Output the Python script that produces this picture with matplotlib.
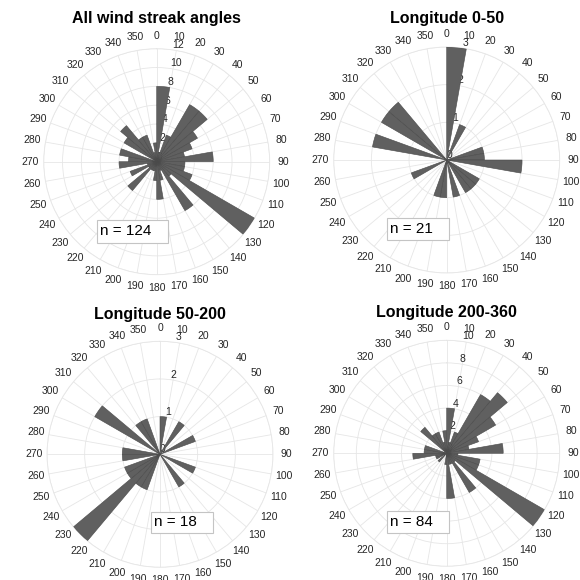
import numpy as np
import matplotlib
matplotlib.use("Agg")
import matplotlib.pyplot as plt
from matplotlib.patches import Rectangle

plt.rcParams['font.family'] = ['Liberation Sans', 'DejaVu Sans']

# 10-degree bins, counts per bin (0-10, 10-20, ... 350-360)
bin_starts = np.arange(0, 360, 10)
all_counts = [8, 1, 3, 7, 7, 5, 4, 3, 6, 3, 3, 4, 12, 2, 6, 1, 2, 4,
              2, 1, 1, 1, 4, 1, 3, 1, 4, 3, 4, 0, 4, 5, 3, 3, 1, 2]
lon_0_50 = [3, 0, 1, 0, 0, 0, 0, 1, 1, 2, 0, 0, 1, 1, 1, 0, 1, 0,
            1, 1, 0, 0, 0, 0, 1, 0, 0, 0, 2, 0, 2, 2, 0, 0, 0, 0]
lon_50_200 = [1, 0, 0, 1, 0, 0, 1, 0, 0, 0, 0, 1, 0, 0, 1, 0, 0, 0,
              0, 0, 1, 1, 3, 1, 1, 0, 1, 1, 0, 0, 2, 0, 1, 1, 0, 0]
lon_200_360 = [4, 1, 2, 6, 7, 5, 3, 2, 5, 1, 3, 3, 10, 1, 4, 1, 1, 4,
               1, 0, 0, 0, 1, 0, 1, 1, 3, 2, 2, 0, 0, 3, 2, 2, 1, 2]

titles = ["All wind streak angles", "Longitude 0-50", "Longitude 50-200", "Longitude 200-360"]
n_labels = ["n = 124", "n = 21", "n = 18", "n = 84"]
r_max = [12, 3, 3, 10]
r_step = [2, 1, 1, 2]

W = H = 580
R = 113  # outer radius, px
centers = [(156.7, 161.7), (446.7, 160), (160, 454.3), (446.7, 453.3)]
title_y = [18, 18, 315, 313]
# n-box (left, top, right, bottom) in px
boxes = [(96.7, 220, 168.3, 242.7), (386.7, 218.3, 449.3, 240),
         (150.7, 511.7, 212.7, 533.3), (387.3, 510.7, 449.3, 533.3)]

fig = plt.figure(figsize=(5.8, 5.8), dpi=100)
series = [all_counts, lon_0_50, lon_50_200, lon_200_360]
txt = '#262626'
grid_c = '#e6e6e6'

for i, counts in enumerate(series):
    cx, cy = centers[i]
    ax = fig.add_axes([(cx - R) / W, 1 - (cy + R) / H, 2 * R / W, 2 * R / H],
                      projection='polar')
    ax.set_theta_zero_location('N')
    ax.set_theta_direction(-1)
    theta = np.deg2rad(bin_starts + 5)
    ax.bar(theta, counts, width=np.deg2rad(10), align='center',
           color='#606060', edgecolor='#4a4a4a', lw=0.4, zorder=3)
    ax.set_ylim(0, r_max[i])
    ticks = np.arange(0, r_max[i] + 0.1, r_step[i])
    ax.set_yticks(ticks)
    ax.set_yticklabels([f"{t:g}" for t in ticks], fontsize=7.5, color=txt)
    ax.set_rlabel_position(8)
    ax.set_xticks(np.deg2rad(np.arange(0, 360, 10)))
    ax.set_xticklabels([str(a) for a in range(0, 360, 10)], fontsize=7.5, color=txt)
    ax.tick_params(axis='x', pad=-1)
    ax.grid(True, color=grid_c, lw=0.6)
    ax.spines['polar'].set_color(grid_c)
    ax.spines['polar'].set_linewidth(0.6)
    for lab in ax.get_yticklabels():
        lab.set_zorder(5)
    ax.set_axisbelow(True)
    fig.text(cx / W, 1 - title_y[i] / H, titles[i], ha='center', va='center',
             fontsize=11.5, fontweight='bold', color='black')
    l, t, r, b = boxes[i]
    fig.patches.append(Rectangle((l / W, 1 - b / H), (r - l) / W, (b - t) / H,
                                 transform=fig.transFigure, fc='white',
                                 ec='#c4c4c4', lw=0.8, zorder=10))
    fig.text((l + 3) / W, 1 - (t + b) / 2 / H, n_labels[i], ha='left', va='center',
             fontsize=11, color='black', zorder=11)

fig.savefig("out.png", dpi=100)
